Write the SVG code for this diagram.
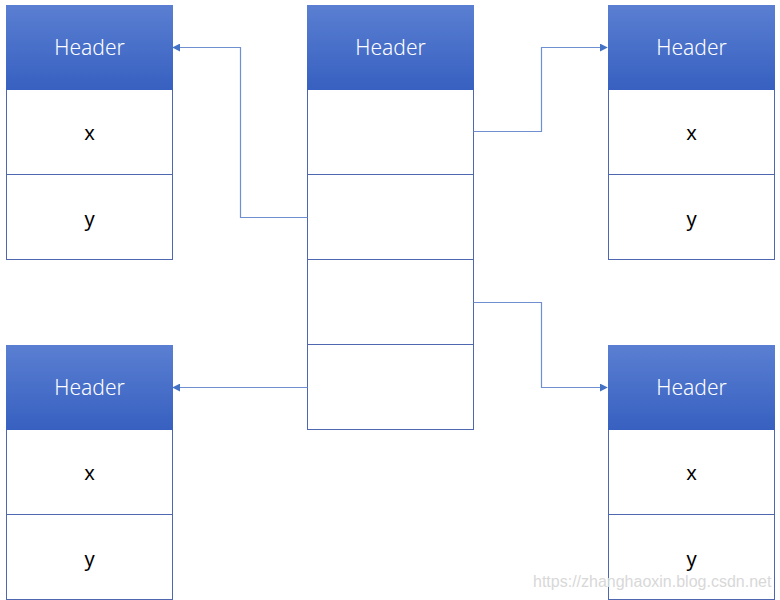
<svg xmlns="http://www.w3.org/2000/svg" width="780" height="600" viewBox="0 0 780 600">
<defs>
<linearGradient id="hg" x1="0" y1="0" x2="0" y2="1">
<stop offset="0" stop-color="#5a7fd2"/>
<stop offset="1" stop-color="#3760c0"/>
</linearGradient>
<marker id="arr" viewBox="0 0 10 10" refX="9" refY="5" markerWidth="8" markerHeight="8" markerUnits="userSpaceOnUse" orient="auto">
<path d="M0,0 L10,5 L0,10 z" fill="#4472c4"/>
</marker>
<style>
.hd{fill:url(#hg);}
.cell{fill:#fff;stroke:#4f67b0;stroke-width:1;}
.ht{font-family:"Noto Sans","Open Sans",sans-serif;font-size:21px;font-weight:300;fill:#fff;text-anchor:middle;dominant-baseline:central;}
.ct{font-family:"Noto Sans","Open Sans",sans-serif;font-size:20px;fill:#000;text-anchor:middle;dominant-baseline:central;}
.con{fill:none;stroke:#6f8fd0;stroke-width:1.2;}
.wm{font-family:"Liberation Sans",Arial,sans-serif;font-size:16px;fill:#d8d8d8;}
</style>
</defs>
<rect width="780" height="600" fill="#fff"/>

<g id="table-tl">
<rect class="cell" x="6.5" y="89.5" width="166" height="85"/>
<rect class="cell" x="6.5" y="174.5" width="166" height="85"/>
<rect class="hd" x="6" y="5" width="167" height="85"/>
<text class="ht" x="89.5" y="47">Header</text>
<text class="ct" x="89.5" y="132">x</text>
<text class="ct" x="89.5" y="218">y</text>
</g>

<g id="table-mid">
<rect class="cell" x="307.5" y="89.5" width="166" height="85"/>
<rect class="cell" x="307.5" y="174.5" width="166" height="85"/>
<rect class="cell" x="307.5" y="259.5" width="166" height="85"/>
<rect class="cell" x="307.5" y="344.5" width="166" height="85"/>
<rect class="hd" x="307" y="5" width="167" height="85"/>
<text class="ht" x="390.5" y="47">Header</text>
</g>

<g id="table-tr">
<rect class="cell" x="608.5" y="89.5" width="166" height="85"/>
<rect class="cell" x="608.5" y="174.5" width="166" height="85"/>
<rect class="hd" x="608" y="5" width="167" height="85"/>
<text class="ht" x="691.5" y="47">Header</text>
<text class="ct" x="691.5" y="132">x</text>
<text class="ct" x="691.5" y="218">y</text>
</g>

<g id="table-bl">
<rect class="cell" x="6.5" y="429.5" width="166" height="85"/>
<rect class="cell" x="6.5" y="514.5" width="166" height="85"/>
<rect class="hd" x="6" y="345" width="167" height="85"/>
<text class="ht" x="89.5" y="387">Header</text>
<text class="ct" x="89.5" y="472">x</text>
<text class="ct" x="89.5" y="558">y</text>
</g>

<g id="table-br">
<rect class="cell" x="608.5" y="429.5" width="166" height="85"/>
<rect class="cell" x="608.5" y="514.5" width="166" height="85"/>
<rect class="hd" x="608" y="345" width="167" height="85"/>
<text class="ht" x="691.5" y="387">Header</text>
<text class="ct" x="691.5" y="472">x</text>
<text class="ct" x="691.5" y="558">y</text>
</g>

<g id="connectors">
<polyline class="con" points="473.5,131.5 541.5,131.5 541.5,47.5 607,47.5" marker-end="url(#arr)"/>
<polyline class="con" points="307.5,217.5 240.5,217.5 240.5,47.5 173,47.5" marker-end="url(#arr)"/>
<polyline class="con" points="473.5,302.5 541.5,302.5 541.5,387.5 607,387.5" marker-end="url(#arr)"/>
<polyline class="con" points="307.5,387.5 173,387.5" marker-end="url(#arr)"/>
</g>

<text class="wm" x="533" y="587">https://zhanghaoxin.blog.csdn.net</text>
</svg>
